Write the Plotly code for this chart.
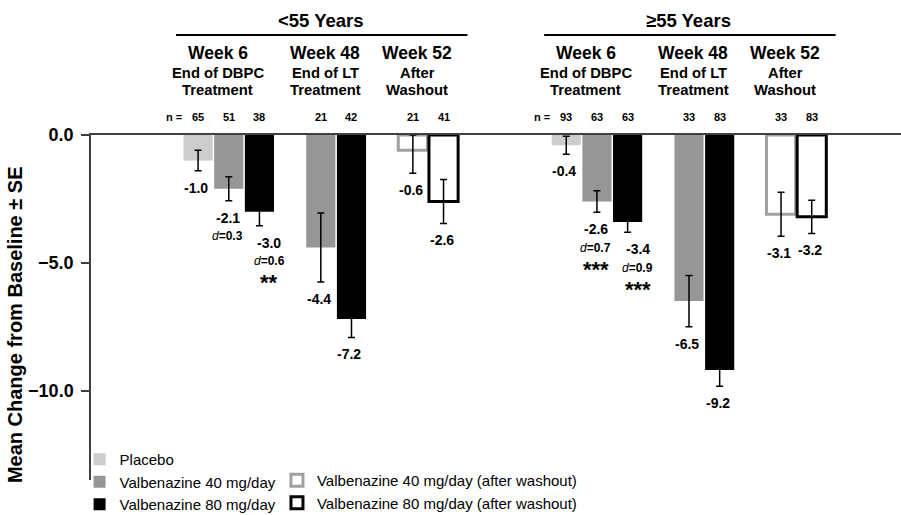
import plotly.graph_objects as go

FONT = "Arial, 'Liberation Sans', sans-serif"

# ---------------- data ----------------
age_groups = ["<55 Years", "≥55 Years"]
tp_week = ["Week 6", "Week 48", "Week 52"]
tp_line2 = ["End of DBPC", "End of LT", "After"]
tp_line3 = ["Treatment", "Treatment", "Washout"]
y_title = "Mean Change from Baseline ± SE"

# Placebo (Week 6 only), per age group
placebo_mean = [-1.0, -0.4]
placebo_se = [0.40, 0.35]
placebo_n = [65, 93]

# Valbenazine 40 mg/day
v40_w6_mean = [-2.1, -2.6]
v40_w6_se = [0.47, 0.42]
v40_w6_n = [51, 63]
v40_w6_d = ["0.3", "0.7"]
v40_w6_sig = ["", "***"]
v40_w48_mean = [-4.4, -6.5]
v40_w48_se = [1.35, 1.00]
v40_w48_n = [21, 33]
v40_w52_mean = [-0.6, -3.1]
v40_w52_se = [0.90, 0.86]
v40_w52_n = [21, 33]

# Valbenazine 80 mg/day
v80_w6_mean = [-3.0, -3.4]
v80_w6_se = [0.55, 0.41]
v80_w6_n = [38, 63]
v80_w6_d = ["0.6", "0.9"]
v80_w6_sig = ["**", "***"]
v80_w48_mean = [-7.2, -9.2]
v80_w48_se = [0.72, 0.63]
v80_w48_n = [42, 83]
v80_w52_mean = [-2.6, -3.2]
v80_w52_se = [0.86, 0.65]
v80_w52_n = [41, 83]

y_ticks = [0, -5, -10]

# ---------------- layout helpers ----------------
def slot(age_i, tp_i, arm_i):
    # arm: 0 placebo, 1 = 40 mg, 2 = 80 mg ; one empty slot between timepoints
    return age_i * 12 + tp_i * 3 + arm_i

AGES = range(len(age_groups))

def err_up(means, ses):
    return [min(s, -m) for m, s in zip(means, ses)]

BAR_W = 0.95
ERR = dict(color="black", thickness=1.5, width=3.5)
STACK_SHIFT = {1: -1, 2: 10}   # Week-6 label stacks: 80 mg stack nudged right

fig = go.Figure()

series = [
    dict(name="Placebo", tps=[(0, placebo_mean, placebo_se)], arm=0,
         fill="#cccccc", line="#cccccc", lw=0, legend="legend"),
    dict(name="Valbenazine 40 mg/day", tps=[(0, v40_w6_mean, v40_w6_se), (1, v40_w48_mean, v40_w48_se)], arm=1,
         fill="#969696", line="#969696", lw=0, legend="legend"),
    dict(name="Valbenazine 80 mg/day", tps=[(0, v80_w6_mean, v80_w6_se), (1, v80_w48_mean, v80_w48_se)], arm=2,
         fill="#000000", line="#000000", lw=0, legend="legend"),
    dict(name="Valbenazine 40 mg/day (after washout)", tps=[(2, v40_w52_mean, v40_w52_se)], arm=1,
         fill="#ffffff", line="#a0a0a0", lw=3, legend="legend2"),
    dict(name="Valbenazine 80 mg/day (after washout)", tps=[(2, v80_w52_mean, v80_w52_se)], arm=2,
         fill="#ffffff", line="#000000", lw=3, legend="legend2"),
]

annotations = []
for s in series:
    xs, ys, ses, shifts = [], [], [], []
    for tp_i, means, errs in s["tps"]:
        for a in AGES:
            xs.append(slot(a, tp_i, s["arm"]))
            ys.append(means[a])
            ses.append(errs[a])
            shifts.append(STACK_SHIFT.get(s["arm"], 0) if tp_i == 0 and s["arm"] > 0 else -2)
    fig.add_trace(go.Bar(
        x=xs, y=ys, name=s["name"], width=BAR_W, legend=s["legend"],
        marker=dict(color=s["fill"], line=dict(color=s["line"], width=s["lw"])),
        error_y=dict(type="data", symmetric=False, array=err_up(ys, ses), arrayminus=ses, **ERR),
        hoverinfo="x+y",
    ))
    for x, m, e, sh in zip(xs, ys, ses, shifts):
        annotations.append(dict(x=x, y=m - e, xref="x", yref="y", text=f"<b>{m:.1f}</b>",
                                showarrow=False, yanchor="middle", yshift=-17, xshift=sh,
                                font=dict(size=14, color="black", family=FONT)))

# effect sizes and significance (Week 6)
for arm, means, ses, ds, sigs in [(1, v40_w6_mean, v40_w6_se, v40_w6_d, v40_w6_sig),
                                  (2, v80_w6_mean, v80_w6_se, v80_w6_d, v80_w6_sig)]:
    for a in AGES:
        x = slot(a, 0, arm)
        y = means[a] - ses[a]
        annotations.append(dict(x=x, y=y, xref="x", yref="y", text=f"<i>d</i><b>={ds[a]}</b>",
                                showarrow=False, yanchor="middle", yshift=-35.5, xshift=STACK_SHIFT[arm],
                                font=dict(size=12, color="black", family=FONT)))
        if sigs[a]:
            annotations.append(dict(x=x, y=y, xref="x", yref="y", text=f"<b>{sigs[a]}</b>",
                                    showarrow=False, yanchor="middle", yshift=-57, xshift=STACK_SHIFT[arm],
                                    font=dict(size=22, color="black", family=FONT)))

# n labels
n_by_tp_arm = {
    (0, 0): placebo_n, (0, 1): v40_w6_n, (0, 2): v80_w6_n,
    (1, 1): v40_w48_n, (1, 2): v80_w48_n,
    (2, 1): v40_w52_n, (2, 2): v80_w52_n,
}
N_Y = 1.0513
for (tp_i, arm), ns in n_by_tp_arm.items():
    for a in AGES:
        annotations.append(dict(x=slot(a, tp_i, arm), y=N_Y, xref="x", yref="paper",
                                text=f"<b>{ns[a]}</b>", showarrow=False, yanchor="middle",
                                font=dict(size=11, color="black", family=FONT)))
for a in AGES:
    annotations.append(dict(x=slot(a, 0, 0), y=N_Y, xref="x", yref="paper", text="<b>n =</b>",
                            showarrow=False, yanchor="middle", xanchor="right", xshift=-14,
                            font=dict(size=11, color="black", family=FONT)))

# timepoint headers
tp_arms = {0: [0, 1, 2], 1: [1, 2], 2: [1, 2]}
for a in AGES:
    for tp_i in range(3):
        xs = [slot(a, tp_i, arm) for arm in tp_arms[tp_i]]
        xc = sum(xs) / len(xs)
        annotations.append(dict(x=xc, y=1.2368, xref="x", yref="paper", text=f"<b>{tp_week[tp_i]}</b>",
                                showarrow=False, yanchor="middle", xshift=-11,
                                font=dict(size=17.5, color="black", family=FONT)))
        annotations.append(dict(x=xc, y=1.1806, xref="x", yref="paper", text=f"<b>{tp_line2[tp_i]}</b>",
                                showarrow=False, yanchor="middle", xshift=-11,
                                font=dict(size=14.8, color="black", family=FONT)))
        annotations.append(dict(x=xc, y=1.1304, xref="x", yref="paper", text=f"<b>{tp_line3[tp_i]}</b>",
                                showarrow=False, yanchor="middle", xshift=-11,
                                font=dict(size=14.8, color="black", family=FONT)))

# age group headers with rule
shapes = []
for a in AGES:
    x0 = slot(a, 0, 0)
    x1 = slot(a, 2, 2)
    annotations.append(dict(x=(x0 + x1) / 2, y=1.3333, xref="x", yref="paper",
                            text=f"<b>{age_groups[a]}</b>", showarrow=False, yanchor="middle",
                            font=dict(size=18.5, color="black", family=FONT)))
    shapes.append(dict(type="line", xref="x", yref="paper", x0=x0 - 0.72, x1=x1 + 0.78,
                       y0=1.2899, y1=1.2899, line=dict(color="black", width=2)))

# y-axis title (rotated text beside the axis)
annotations.append(dict(x=-0.0938, y=0.449, xref="paper", yref="paper", text=f"<b>{y_title}</b>",
                        textangle=-90, showarrow=False, xanchor="center", yanchor="middle",
                        font=dict(size=20, color="black", family=FONT)))

fig.update_layout(
    width=901, height=515,
    margin=dict(l=91, r=0, t=135, b=35, autoexpand=False),
    plot_bgcolor="white", paper_bgcolor="white",
    font=dict(family=FONT, color="black"),
    barmode="overlay",
    showlegend=True,
    annotations=annotations,
    shapes=shapes,
    xaxis=dict(range=[-3.49, 22.91], side="top", showline=True, linecolor="#404040", linewidth=1.5,
               showticklabels=False, ticks="", showgrid=False, zeroline=False),
    yaxis=dict(range=[-13.5, 0], tickvals=y_ticks, tickformat=".1f", ticks="outside", ticklen=8,
               tickwidth=1.5, tickcolor="#404040", showline=True, linecolor="#404040", linewidth=1.5,
               showgrid=False, zeroline=False, ticklabelstandoff=4,
               tickfont=dict(size=18, family=FONT, color="black", weight="bold")),
    legend=dict(x=-0.0141, y=0.1072, xanchor="left", yanchor="top",
                bgcolor="rgba(0,0,0,0)", font=dict(size=15, family=FONT, color="black"),
                traceorder="normal"),
    legend2=dict(x=0.2296, y=0.0464, xanchor="left", yanchor="top",
                 bgcolor="rgba(0,0,0,0)", font=dict(size=15, family=FONT, color="black"),
                 traceorder="normal"),
)

fig.write_html(
    "out.html",
    config={"displayModeBar": False},
    post_script="document.body.style.margin='0';document.documentElement.style.overflow='hidden';",
)
